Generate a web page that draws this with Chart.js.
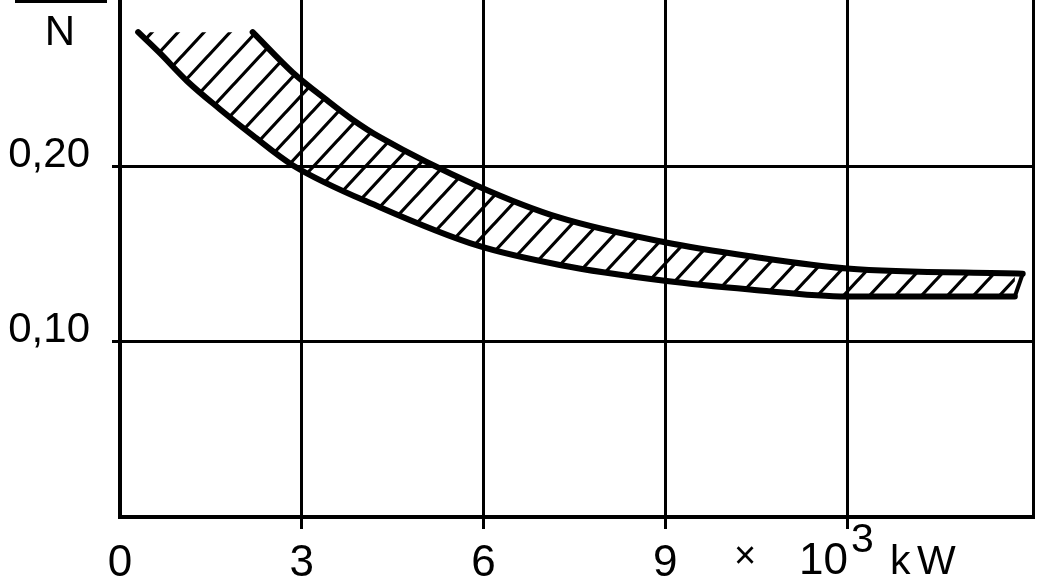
<!DOCTYPE html>
<html>
<head>
<meta charset="utf-8">
<script src="https://cdn.jsdelivr.net/npm/chart.js@4.4.1/dist/chart.umd.min.js"></script>
<style>
  body { margin: 0; background: #fff; }
  #wrap { width: 1040px; height: 582px; }
</style>
</head>
<body>
<div id="wrap"><canvas id="chart" width="1040" height="582"></canvas></div>
<script>
// values (x in 10^3 kW)
const upperX = [2.19, 2.85, 3.42, 3.84, 4.29, 5.91, 7.26, 8.99, 10.40, 12.0, 14.90];
const upperY = [0.277, 0.254, 0.238, 0.227, 0.217, 0.189, 0.171, 0.157, 0.149, 0.142, 0.139];
const lowerX = [0.30, 0.66, 1.11, 1.65, 2.19, 2.85, 4.29, 5.91, 7.26, 8.99, 10.40, 12.0, 14.77];
const lowerY = [0.277, 0.265, 0.249, 0.233, 0.218, 0.201, 0.177, 0.155, 0.144, 0.135, 0.130, 0.126, 0.126];
const xTicks = [0, 3, 6, 9, 12];
const xLabels = ["0", "3", "6", "9", ""];
const yTicks = [0, 0.1, 0.2];
const yLabels = ["", "0,10", "0,20"];
const xMax = 15.07;
const yMax = 0.2954;

const FONT = "Liberation Sans";

function pts(xs, ys) {
    return xs.map((x, i) => ({ x: x, y: ys[i] }));
}

const upper = pts(upperX, upperY);
const lower = pts(lowerX, lowerY);
// hatched band: flat top from start of lower curve to start of upper curve
const hatchTop = [{ x: lowerX[0], y: lowerY[0] }].concat(upper);
const endCap = [lower[lower.length - 1], upper[upper.length - 1]];

function makeHatch() {
    var w = 26, h = 28;
    var c = document.createElement("canvas");
    c.width = w; c.height = h;
    var g = c.getContext("2d");
    g.strokeStyle = "#000";
    g.lineWidth = 3.2;
    g.beginPath();
    g.moveTo(0, h); g.lineTo(w, 0);
    g.moveTo(-w / 2, h / 2); g.lineTo(w / 2, -h / 2);
    g.moveTo(w / 2, h * 1.5); g.lineTo(w * 1.5, h / 2);
    g.stroke();
    return g.createPattern(c, "repeat");
}

const textPlugin = {
    id: "texts",
    afterDraw(chart) {
        const ctx = chart.ctx;
        const xs = chart.scales.x;
        const cx = xs.getPixelForValue(12);
        ctx.save();
        ctx.fillStyle = "#000";
        ctx.textBaseline = "alphabetic";
        // axis title remains: fraction bar and N
        ctx.fillRect(15, 0, 92, 3);
        ctx.font = "42px '" + FONT + "'";
        ctx.textAlign = "center";
        ctx.fillText("N", 60, 45);
        // unit label at the 12 tick
        ctx.textAlign = "left";
        ctx.font = "38px '" + FONT + "'";
        ctx.fillText("\u00d7", cx - 113, 568);
        ctx.font = "44px '" + FONT + "'";
        ctx.fillText("10", cx - 48, 574);
        ctx.font = "41px '" + FONT + "'";
        ctx.fillText("3", cx + 4, 552);
        ctx.fillText("k", cx + 43, 574);
        ctx.fillText("W", cx + 70, 574);
        ctx.restore();
    }
};

const ctx = document.getElementById("chart").getContext("2d");

const myChart = new Chart(ctx, {
    type: "line",
    data: {
        datasets: [
            {
                label: "lower",
                data: lower,
                borderColor: "#000",
                borderWidth: 6,
                borderCapStyle: "round",
                cubicInterpolationMode: "monotone",
                pointRadius: 0,
                fill: false
            },
            {
                label: "upper",
                data: upper,
                borderColor: "#000",
                borderWidth: 6,
                borderCapStyle: "round",
                cubicInterpolationMode: "monotone",
                pointRadius: 0,
                fill: false
            },
            {
                label: "band",
                data: hatchTop,
                borderWidth: 0,
                borderColor: "rgba(0,0,0,0)",
                tension: 0,
                pointRadius: 0,
                backgroundColor: makeHatch(),
                fill: 0
            },
            {
                label: "end",
                data: endCap,
                borderColor: "#000",
                borderWidth: 4,
                tension: 0,
                pointRadius: 0,
                fill: false
            }
        ]
    },
    options: {
        responsive: false,
        animation: false,
        layout: { padding: { left: 0, right: 7, top: 0, bottom: 0 } },
        plugins: {
            legend: { display: false },
            tooltip: { enabled: false },
            filler: { propagate: false }
        },
        scales: {
            x: {
                type: "linear",
                min: 0,
                max: xMax,
                afterBuildTicks: function(scale) {
                    scale.ticks = xTicks.concat([xMax]).map(v => ({ value: v }));
                },
                afterFit: function(scale) {
                    scale.height = 65;
                    scale.paddingLeft = 0;
                    scale.paddingRight = 0;
                },
                ticks: {
                    autoSkip: false,
                    maxRotation: 0,
                    padding: 8,
                    color: "#000",
                    font: { family: FONT, size: 44 },
                    callback: function(v) {
                        const i = xTicks.indexOf(v);
                        return i >= 0 ? xLabels[i] : "";
                    }
                },
                grid: {
                    color: "#000",
                    lineWidth: 3,
                    tickLength: 12,
                    tickWidth: 3,
                    tickColor: function(c) {
                        const v = c.tick ? c.tick.value : null;
                        return (v === 0 || v === xMax) ? "rgba(0,0,0,0)" : "#000";
                    }
                },
                border: { color: "#000", width: 4 }
            },
            y: {
                type: "linear",
                min: 0,
                max: yMax,
                afterBuildTicks: function(scale) {
                    scale.ticks = yTicks.map(v => ({ value: v }));
                },
                afterFit: function(scale) {
                    scale.width = 120;
                    scale.paddingTop = 0;
                    scale.paddingBottom = 0;
                },
                ticks: {
                    autoSkip: false,
                    padding: 22,
                    labelOffset: -12,
                    color: "#000",
                    font: { family: FONT, size: 42 },
                    callback: function(v) {
                        const i = yTicks.indexOf(v);
                        return i >= 0 ? yLabels[i] : "";
                    }
                },
                grid: {
                    color: "#000",
                    lineWidth: 3,
                    tickLength: 8,
                    tickWidth: 3,
                    tickColor: function(c) {
                        const v = c.tick ? c.tick.value : null;
                        return v === 0 ? "rgba(0,0,0,0)" : "#000";
                    }
                },
                border: { color: "#000", width: 4 }
            }
        }
    },
    plugins: [textPlugin]
});
</script>
</body>
</html>
